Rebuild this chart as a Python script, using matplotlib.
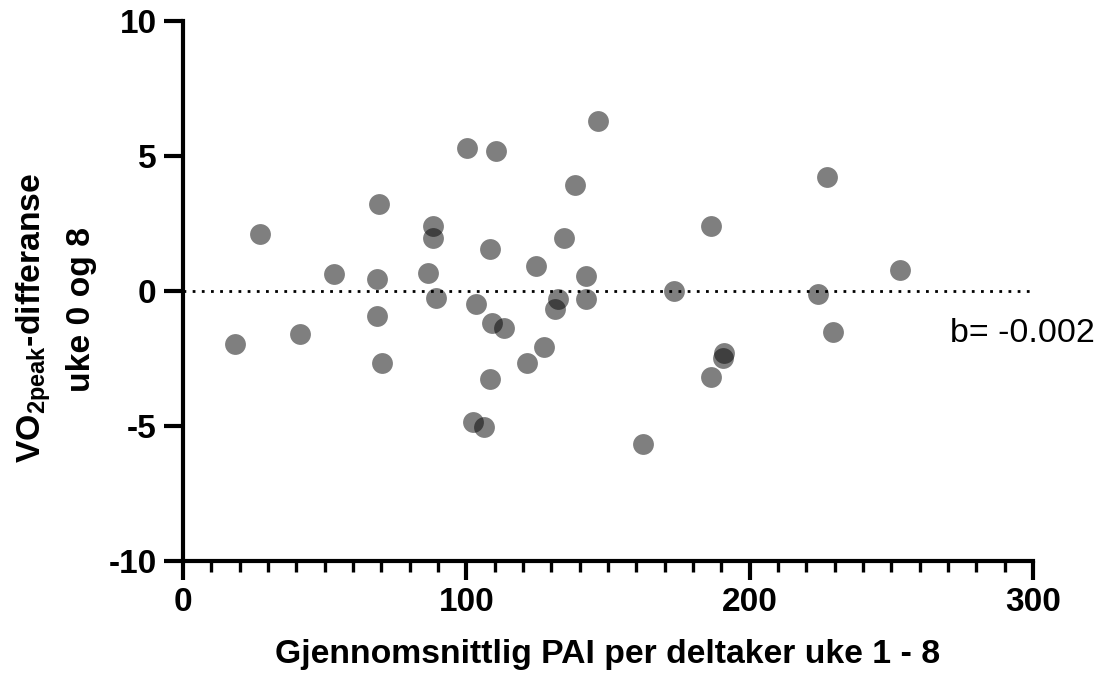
import matplotlib
matplotlib.use("Agg")
import matplotlib.pyplot as plt
from matplotlib.ticker import MultipleLocator

plt.rcParams['font.family'] = ['Liberation Sans', 'DejaVu Sans']
plt.rcParams['mathtext.fontset'] = 'custom'
plt.rcParams['mathtext.rm'] = 'Liberation Sans:bold'
plt.rcParams['mathtext.it'] = 'Liberation Sans:bold'
plt.rcParams['mathtext.bf'] = 'Liberation Sans:bold'
plt.rcParams['axes.unicode_minus'] = False

# mean PAI per participant (x) and VO2peak change week 0 -> 8 (y)
pai = [18.5, 27.3, 41.2, 53.4, 68.3, 68.3, 69.3, 70.3, 86.3, 88.3, 88.3,
       89.3, 100.3, 102.2, 103.3, 106.2, 108.3, 108.3, 109.2, 110.3, 113.4,
       121.3, 124.5, 127.4, 131.3, 132.5, 134.3, 138.4, 142.2, 142.2, 146.4,
       162.3, 173.3, 186.5, 186.3, 190.5, 191.1, 224.2, 227.4, 229.5, 252.9]
vo2_diff = [-1.97, 2.10, -1.58, 0.64, 0.43, -0.93, 3.21, -2.65, 0.68, 2.41, 1.98,
            -0.27, 5.31, -4.87, -0.48, -5.04, 1.57, -3.27, -1.17, 5.19, -1.36,
            -2.65, 0.93, -2.07, -0.68, -0.28, 1.95, 3.91, 0.56, -0.28, 6.30,
            -5.65, 0.0, 2.42, -3.17, -2.47, -2.31, -0.12, 4.23, -1.51, 0.78]
slope_text = "b= -0.002"

W, H = 1096, 675
fig = plt.figure(figsize=(W/100, H/100), dpi=100)
ax = fig.add_axes([183/W, 1-561/H, (1033-183)/W, (561-21)/H])

ax.scatter(pai, vo2_diff, s=225, color='black', alpha=0.5, linewidths=0, zorder=3)
ax.plot([0, 300], [0, 0], color='black', lw=2, linestyle=(0, (1, 2.3)), zorder=2)

ax.set_xlim(0, 300)
ax.set_ylim(-10, 10)
ax.xaxis.set_major_locator(MultipleLocator(100))
ax.xaxis.set_minor_locator(MultipleLocator(10))
ax.yaxis.set_major_locator(MultipleLocator(5))

for s in ['top', 'right']:
    ax.spines[s].set_visible(False)
for s in ['left', 'bottom']:
    ax.spines[s].set_linewidth(3)
    ax.spines[s].set_capstyle('projecting')

ax.tick_params(which='major', length=14, width=3, labelsize=24, pad=5)
ax.tick_params(which='minor', length=8, width=2.4)
for lab in ax.get_xticklabels() + ax.get_yticklabels():
    lab.set_fontweight('bold')

ax.set_xlabel("Gjennomsnittlig PAI per deltaker uke 1 - 8", fontsize=24.3,
              fontweight='bold', labelpad=15)

# two-line y label, placed by hand
fig.text(41/W, 1-318/H, "VO$_{2peak}$-differanse", fontsize=24.3, fontweight='bold',
         rotation=90, rotation_mode='anchor', ha='center', va='baseline')
fig.text(90/W, 1-310/H, "uke 0 og 8", fontsize=24.3, fontweight='bold',
         rotation=90, rotation_mode='anchor', ha='center', va='baseline')

ax.text(270.7, -1.9, slope_text, fontsize=24.5, va='baseline', ha='left',
        clip_on=False)

fig.savefig("out.png", dpi=100)
